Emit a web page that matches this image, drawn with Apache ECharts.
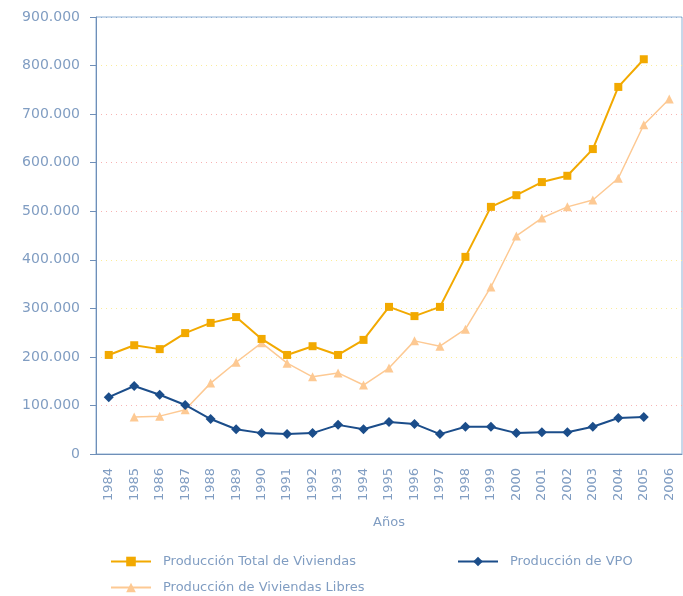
<!DOCTYPE html>
<html>
<head>
<meta charset="utf-8">
<script src="https://cdn.jsdelivr.net/npm/echarts@6/dist/echarts.min.js"></script>
<style>
  html, body { margin: 0; padding: 0; background: #fff; }
  #chart { width: 683px; height: 596px; }
</style>
</head>
<body>
<div id="chart"></div>
<script>
// datos
const years = ['1984', '1985', '1986', '1987', '1988', '1989', '1990', '1991', '1992', '1993', '1994', '1995',
  '1996', '1997', '1998', '1999', '2000', '2001', '2002', '2003', '2004', '2005', '2006'];
const totalViviendas = [204000, 224000, 216000, 249000, 270000, 282000, 237000, 204000, 222000, 204000, 235000, 303000,
  284000, 303000, 406000, 509000, 533000, 560000, 573000, 628000, 756000, 813000, null];
const viviendasLibres = [null, 76000, 78000, 91000, 146000, 189000, 229000, 187000, 159000, 167000, 142000, 177000,
  233000, 222000, 257000, 344000, 449000, 486000, 509000, 523000, 568000, 678000, 731000];
const viviendasVPO = [117000, 140000, 122000, 101000, 72000, 51000, 43000, 41000, 43000, 60000, 51000, 66000,
  62000, 41000, 56000, 56000, 43000, 45000, 45000, 56000, 74000, 76000, null];
const seriesNames = ['Producción Total de Viviendas', 'Producción de VPO', 'Producción de Viviendas Libres'];

const textColor = '#809dc2';
const axisColor = '#6f8fb8';
const font = 'DejaVu Sans';

const chart = echarts.init(document.getElementById('chart'));

// separador de miles con punto
const fmt = v => v === 0 ? '0' : String(v).replace(/\B(?=(\d{3})+(?!\d))/g, '.');

const legendBase = {
  itemWidth: 40,
  itemHeight: 12,
  textStyle: { color: textColor, fontSize: 13, fontFamily: font, padding: [0, 0, 0, 7] }
};

const option = {
  animation: false,
  grid: {
    left: 96, right: 1, top: 17, bottom: 142,
    show: true, borderColor: '#8fb0d4', borderWidth: 1
  },
  legend: [
    Object.assign({ data: [seriesNames[0]], left: 105, top: 550 }, legendBase),
    Object.assign({ data: [seriesNames[1]], left: 452, top: 550 }, legendBase),
    Object.assign({ data: [seriesNames[2]], left: 105, top: 576 }, legendBase)
  ],
  xAxis: {
    type: 'category',
    data: years,
    boundaryGap: true,
    name: 'Años',
    nameLocation: 'middle',
    nameGap: 62,
    nameTextStyle: { color: textColor, fontSize: 13, fontFamily: font },
    axisLine: { lineStyle: { color: axisColor } },
    axisTick: { length: 5, lineStyle: { color: axisColor } },
    axisLabel: { rotate: 90, interval: 0, color: textColor, fontSize: 13, fontFamily: font, margin: 14 },
    splitLine: { show: false }
  },
  yAxis: {
    type: 'value',
    min: 0,
    max: 900000,
    interval: 100000,
    axisLine: { show: true, lineStyle: { color: axisColor } },
    axisTick: { show: true, length: 6, lineStyle: { color: axisColor } },
    axisLabel: { color: textColor, fontSize: 14, fontFamily: font, margin: 16, formatter: fmt },
    splitLine: {
      show: true,
      lineStyle: {
        type: [1, 4],
        width: 1,
        color: ['#ffffff', '#f7b3b3', '#fbec9a', '#fbec9a', '#fbec9a', '#f7b3b3', '#f7b3b3', '#f7b3b3', '#fbec9a', '#8fb0d4']
      }
    }
  },
  series: [
    {
      name: seriesNames[0],
      type: 'line',
      data: totalViviendas,
      symbol: 'rect',
      symbolSize: 8,
      z: 3,
      lineStyle: { color: '#f2a900', width: 2 },
      itemStyle: { color: '#f2a900' }
    },
    {
      name: seriesNames[1],
      type: 'line',
      data: viviendasVPO,
      symbol: 'diamond',
      symbolSize: 10,
      z: 4,
      lineStyle: { color: '#1b4d8a', width: 2 },
      itemStyle: { color: '#1b4d8a' }
    },
    {
      name: seriesNames[2],
      type: 'line',
      data: viviendasLibres,
      symbol: 'triangle',
      symbolSize: 9,
      z: 2,
      lineStyle: { color: '#fdc993', width: 1.5 },
      itemStyle: { color: '#fdc993' }
    }
  ]
};

chart.setOption(option);
</script>
</body>
</html>
